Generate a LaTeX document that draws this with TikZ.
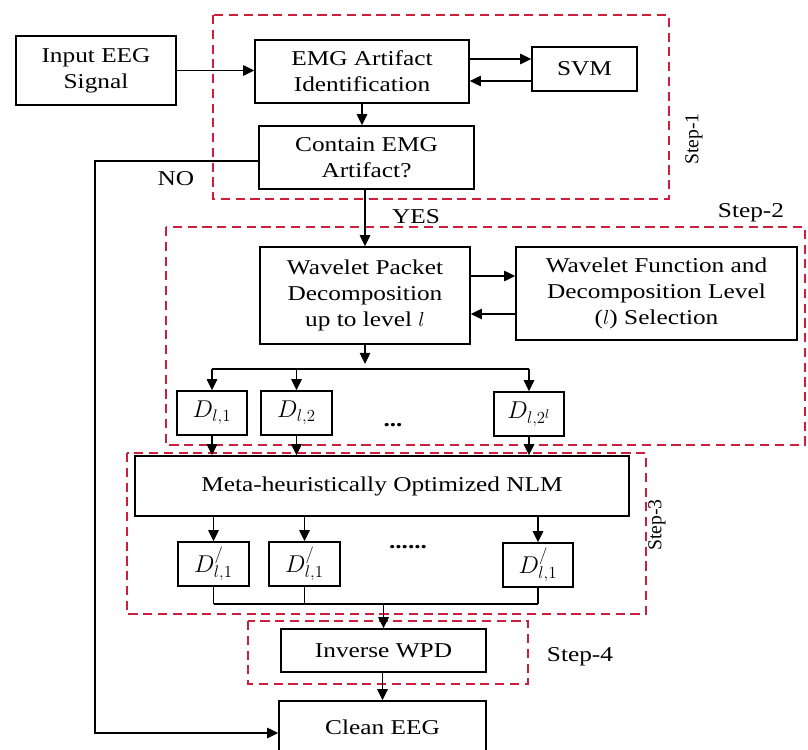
\documentclass[tikz,border=0pt]{standalone}
\usepackage{fontspec}
\setmainfont{Liberation Serif}[FakeStretch=1.2]
\newfontfamily\plainserif{Liberation Serif}
\usetikzlibrary{arrows.meta}
\definecolor{stepred}{RGB}{205,30,60}

\begin{document}
\begin{tikzpicture}[x=0.025cm,y=-0.025cm,
  box/.style={draw,line width=1pt,align=center,inner sep=0pt,font=\fontsize{15}{18.5}\selectfont},
  dbox/.style={box,minimum height=1.1cm,font=\fontsize{17.5}{20}\selectfont},
  arr/.style={line width=1pt,-{Triangle[length=8pt,width=7.5pt]}},
  link/.style={line width=1pt},
  stepframe/.style={draw=stepred,line width=1pt,dash pattern=on 6.5pt off 4pt},
  steptext/.style={font=\fontsize{15}{18}\selectfont},
  sidetext/.style={font=\plainserif\fontsize{14}{16}\selectfont,rotate=90}]

\useasboundingbox (0,0) rectangle (808,749);

\draw[stepframe] (213,15) rectangle (669,199);
\draw[stepframe] (166,227) rectangle (805,445);
\draw[stepframe] (127,453) rectangle (646,614);
\draw[stepframe] (248,621) rectangle (528,684);

\node[box,minimum width=4cm,minimum height=1.725cm] (input) at (96,70.5) {Input EEG\\Signal};
\node[box,minimum width=5.35cm,minimum height=1.575cm] (emg) at (362,71.5) {EMG Artifact\\Identification};
\node[box,minimum width=2.625cm,minimum height=1.1cm] (svm) at (584.5,69) {SVM};
\node[box,minimum width=5.375cm,minimum height=1.575cm] (contain) at (366.5,157.5) {Contain EMG\\Artifact?};
\node[box,minimum width=5.25cm,minimum height=2.425cm] (wpd) at (365,295.5) {Wavelet Packet\\Decomposition\\up to level $l$};
\node[box,minimum width=7.025cm,minimum height=2.325cm] (wfsel) at (656.5,293.5) {Wavelet Function and\\Decomposition Level\\($l$) Selection};

\node[dbox,minimum width=1.75cm] (d1) at (212,413) {$D_{l,1}$};
\node[dbox,minimum width=1.775cm] (d2) at (296.5,413) {$D_{l,2}$};
\node[dbox,minimum width=1.75cm] (dn) at (529,414) {$D_{l,2^l}$};
\node[steptext,inner sep=0pt] (ddots) at (393,425) {\textbf{...}};

\node[box,minimum width=12.35cm,minimum height=1.5cm] (nlm) at (382,486) {Meta-heuristically Optimized NLM};

\node[dbox,minimum width=1.775cm] (e1) at (213.5,564) {$D^{/}_{l,1}$};
\node[dbox,minimum width=1.775cm] (e2) at (304.5,564) {$D^{/}_{l,1}$};
\node[dbox,minimum width=1.75cm] (en) at (538,565) {$D^{/}_{l,1}$};
\node[steptext,inner sep=0pt] (edots) at (408,547) {\textbf{......}};

\node[box,minimum width=5.125cm,minimum height=1.075cm] (iwpd) at (383.5,650.5) {Inverse WPD};
\node[box,minimum width=5.175cm,minimum height=1.3cm] (clean) at (382.5,727) {Clean EEG};

\node[steptext] (no) at (176,179) {NO};
\node[steptext] (yes) at (416,217) {YES};
\node[sidetext] (step1) at (694,139) {Step-1};
\node[steptext] (step2) at (751,213) {Step-2};
\node[sidetext] (step3) at (657,525) {Step-3};
\node[steptext] (step4) at (580,657) {Step-4};

\draw[arr] (input.east) -- (input.east -| emg.west);
\draw[arr] (emg.east |- 0,59) -- (svm.west |- 0,59);
\draw[arr] (svm.west |- 0,81) -- (emg.east |- 0,81);
\draw[arr] (emg.south) -- (emg.south |- contain.north);
\draw[arr] (contain.west |- 0,161) -- (95,161) |- (clean.west |- 0,733);
\draw[arr] (wpd.north |- contain.south) -- (wpd.north);
\draw[arr] (wpd.east |- 0,276) -- (wfsel.west |- 0,276);
\draw[arr] (wfsel.west |- 0,314) -- (wpd.east |- 0,314);
\draw[arr] (wpd.south) -- (wpd.south |- 0,364);
\draw[link] (d1.north |- 0,369) -- (dn.north |- 0,369);
\foreach \d in {d1,d2,dn} {
  \draw[arr] (\d.north |- 0,369) -- (\d.north);
  \draw[arr] (\d.south) -- (\d.south |- nlm.north);
}
\foreach \e in {e1,e2,en} {
  \draw[arr] (\e.north |- nlm.south) -- (\e.north);
  \draw[link] (\e.south) -- (\e.south |- 0,604);
}
\draw[link] (e1.south |- 0,604) -- (en.south |- 0,604);
\draw[arr] (iwpd.north |- 0,604) -- (iwpd.north);
\draw[arr] (iwpd.south) -- (clean.north |- iwpd.south) -- (clean.north);

\end{tikzpicture}
\end{document}
